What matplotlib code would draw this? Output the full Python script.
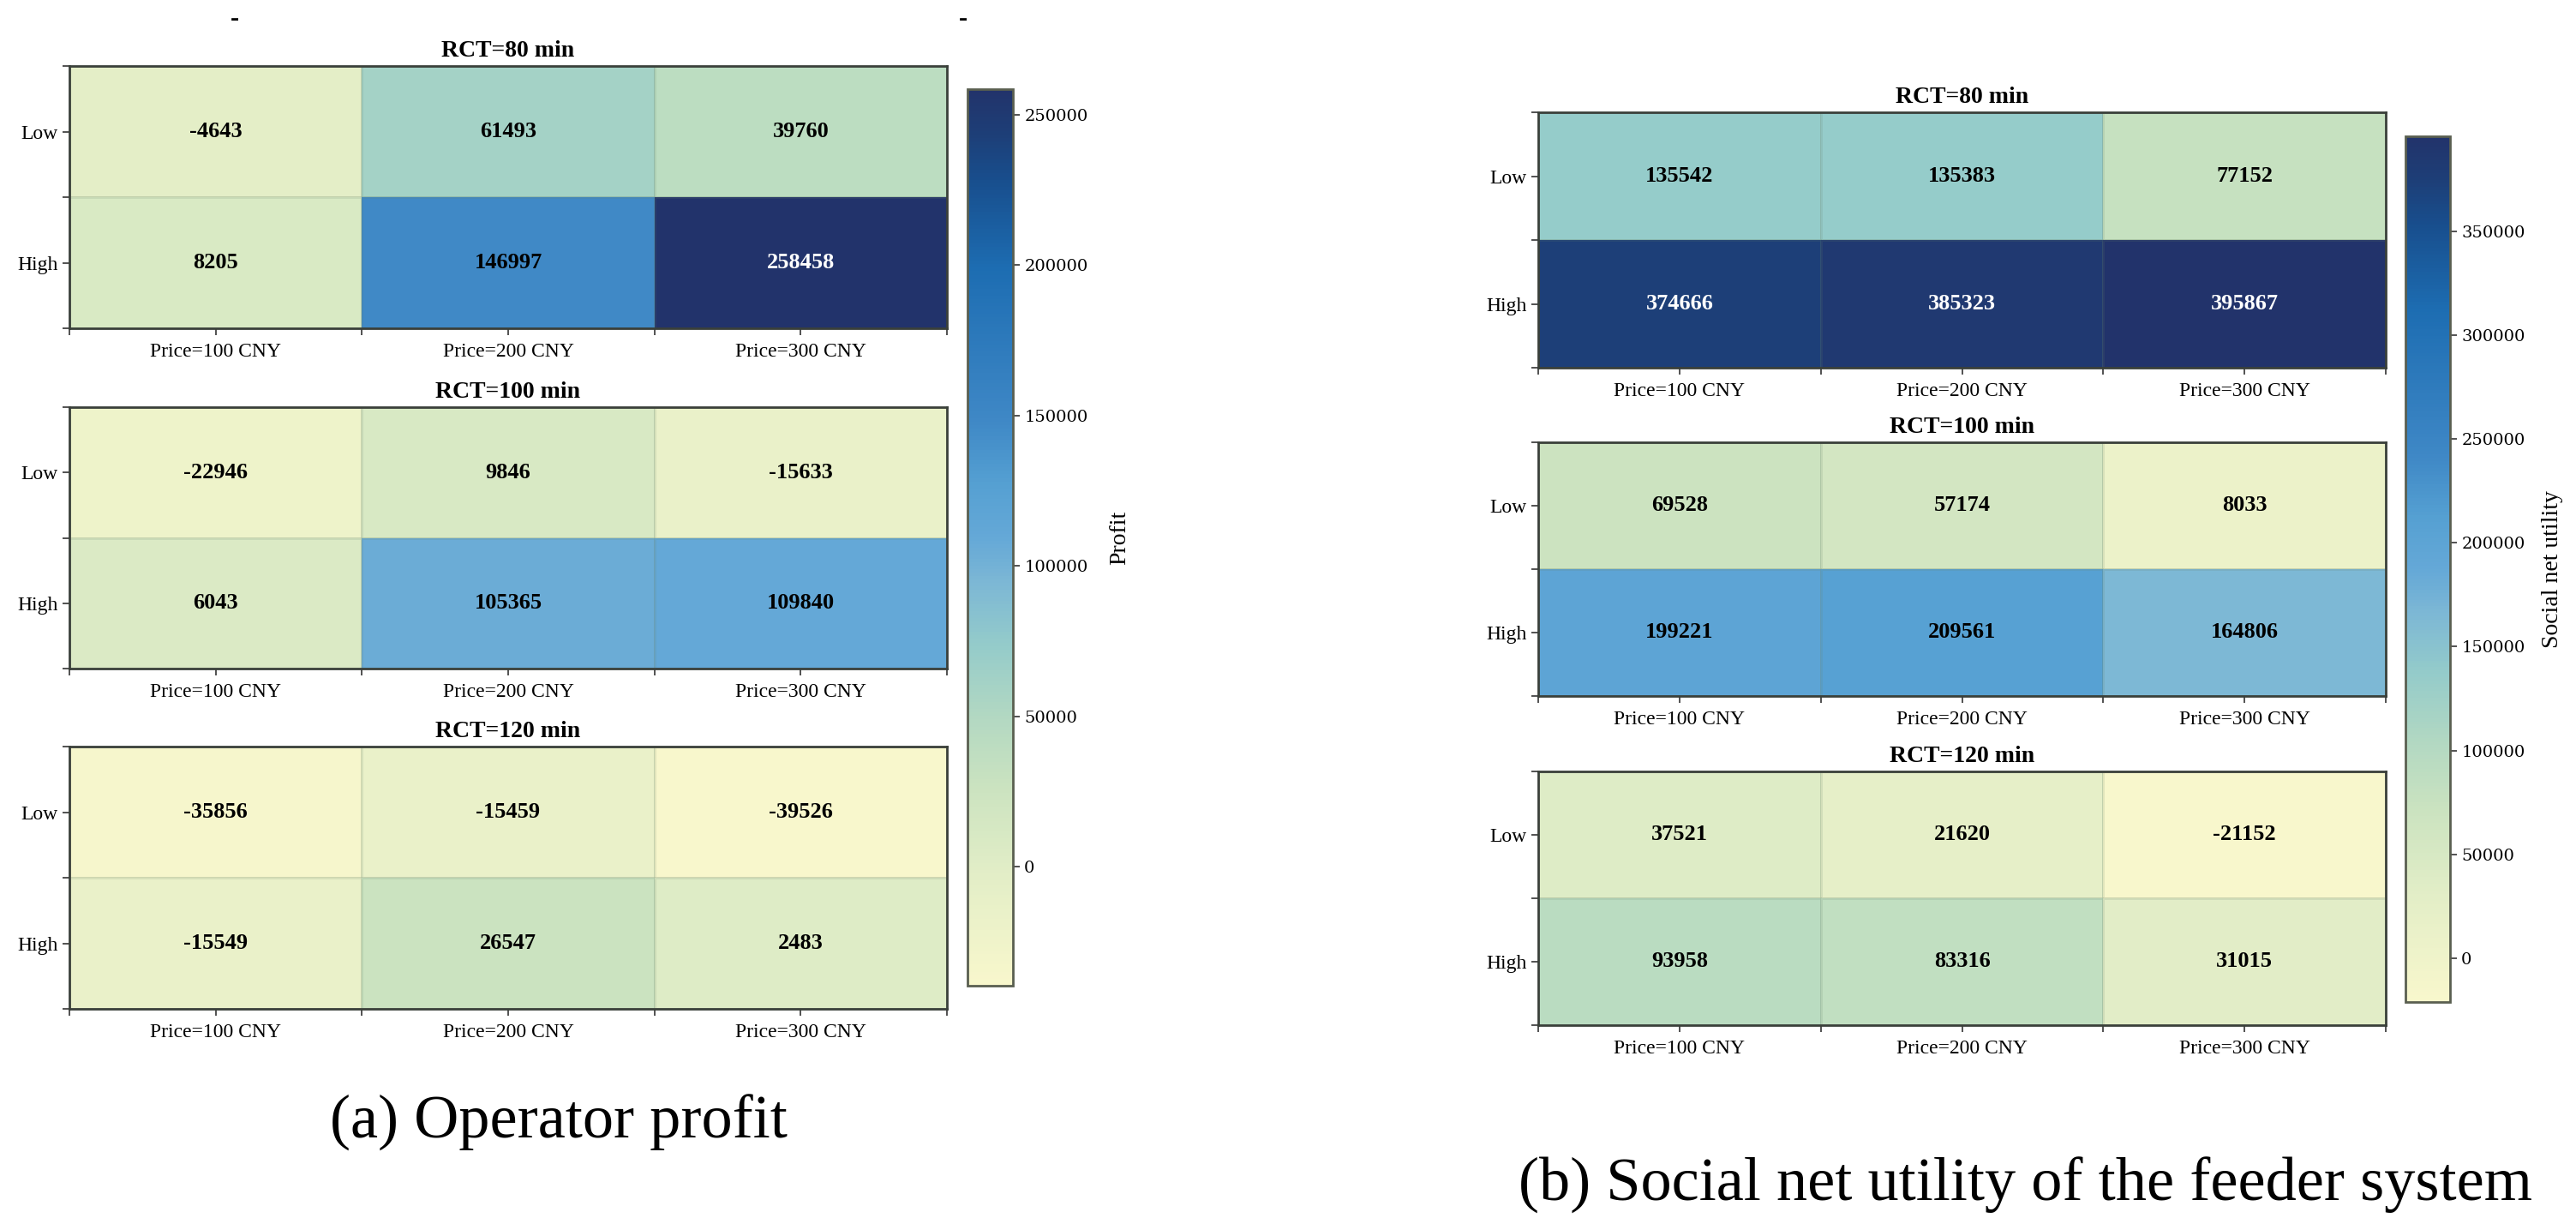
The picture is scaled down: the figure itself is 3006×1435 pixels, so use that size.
import matplotlib.pyplot as plt
import numpy as np
from matplotlib.colors import LinearSegmentedColormap, Normalize

plt.rcParams["font.family"] = ["Liberation Serif", "DejaVu Serif"]

prices = ["Price=100 CNY", "Price=200 CNY", "Price=300 CNY"]
levels = ["Low", "High"]
rct_titles = ["RCT=80 min", "RCT=100 min", "RCT=120 min"]

# operator profit, rows = Low / High
profit_80 = [[-4643, 61493, 39760], [8205, 146997, 258458]]
profit_100 = [[-22946, 9846, -15633], [6043, 105365, 109840]]
profit_120 = [[-35856, -15459, -39526], [-15549, 26547, 2483]]

# social net utility of the feeder system
utility_80 = [[135542, 135383, 77152], [374666, 385323, 395867]]
utility_100 = [[69528, 57174, 8033], [199221, 209561, 164806]]
utility_120 = [[37521, 21620, -21152], [93958, 83316, 31015]]

W, H = 3006, 1435
fig = plt.figure(figsize=(W / 100, H / 100), dpi=100)

# faded YlGnBu-like ramp as seen in the figure
cmap = LinearSegmentedColormap.from_list("ylgnbu_faded", [
    (0.00, "#f8f7cc"), (0.12, "#e3eec7"), (0.22, "#cbe3c0"), (0.30, "#b2d8c2"),
    (0.38, "#94cbca"), (0.45, "#7cb7d5"), (0.50, "#64a8d7"), (0.56, "#55a0d2"),
    (0.63, "#3f88c6"), (0.80, "#1d6db2"), (0.90, "#184e8d"), (0.95, "#1d3f78"),
    (1.00, "#22336b"),
])


def px_axes(x0, y0, x1, y1):
    return fig.add_axes([x0 / W, 1 - y1 / H, (x1 - x0) / W, (y1 - y0) / H])


def heatmap(ax, data, title, norm):
    data = np.array(data)
    ax.pcolormesh(data, cmap=cmap, norm=norm,
                  edgecolors=(0.4, 0.5, 0.4, 0.15), linewidth=1)
    ax.set_xlim(0, 3)
    ax.set_ylim(2, 0)
    for i in range(2):
        for j in range(3):
            v = data[i, j]
            col = "white" if norm(v) > 0.75 else "black"
            ax.text(j + 0.5, i + 0.5, f"{v}", ha="center", va="center",
                    fontsize=19, fontweight="bold", color=col)
    ax.set_xticks(np.arange(3) + 0.5)
    ax.set_xticklabels(prices, fontsize=17)
    ax.set_yticks(np.arange(2) + 0.5)
    ax.set_yticklabels(levels, fontsize=17)
    ax.set_xticks(np.arange(4), minor=True)
    ax.set_yticks(np.arange(3), minor=True)
    ax.tick_params(which="both", length=6, width=1.2, color="#333333")
    ax.tick_params(axis="x", which="major", pad=6)
    ax.set_title(title, fontsize=20, fontweight="bold", pad=8)
    for s in ax.spines.values():
        s.set_color("#3a403a")
        s.set_linewidth(2)


def colorbar(cax, norm, label, ticks, labelpad):
    sm = plt.cm.ScalarMappable(norm=norm, cmap=cmap)
    cb = fig.colorbar(sm, cax=cax, ticks=ticks)
    cb.outline.set_edgecolor("#5a5f50")
    cb.outline.set_linewidth(2)
    cax.tick_params(length=6, width=1.2, color="#333333")
    for t in cax.get_yticklabels():
        t.set_fontfamily("DejaVu Serif")
        t.set_fontsize(14)
    cb.set_label(label, fontsize=20, labelpad=labelpad)


# (a) operator profit
profit_all = np.array([profit_80, profit_100, profit_120])
norm_a = Normalize(profit_all.min(), profit_all.max())
for data, title, (y0, y1) in zip([profit_80, profit_100, profit_120], rct_titles,
                                 [(77, 383), (475, 780), (871, 1177)]):
    heatmap(px_axes(81, y0, 1105, y1), data, title, norm_a)
colorbar(px_axes(1129, 104, 1182, 1150), norm_a, "Profit",
         np.arange(0, 250001, 50000), 18)

# (b) social net utility
utility_all = np.array([utility_80, utility_100, utility_120])
norm_b = Normalize(utility_all.min(), utility_all.max())
for data, title, (y0, y1) in zip([utility_80, utility_100, utility_120], rct_titles,
                                 [(131, 429), (516, 812), (900, 1196)]):
    heatmap(px_axes(1795, y0, 2784, y1), data, title, norm_b)
colorbar(px_axes(2807, 159, 2859, 1169), norm_b, "Social net utility",
         np.arange(0, 350001, 50000), 14)

# leftovers of a cropped line above panel (a)
fig.text(274 / W, 1 - 22 / H, "-", fontsize=22, fontweight="bold", ha="center", va="center")
fig.text(1124 / W, 1 - 22 / H, "-", fontsize=22, fontweight="bold", ha="center", va="center")

fig.text(652 / W, 1 - 1310 / H, "(a) Operator profit", fontsize=52,
         ha="center", va="center")
fig.text(2364 / W, 1 - 1383 / H, "(b) Social net utility of the feeder system",
         fontsize=52, ha="center", va="center")

fig.savefig("out.png", dpi=100, facecolor="white")
plt.close()
